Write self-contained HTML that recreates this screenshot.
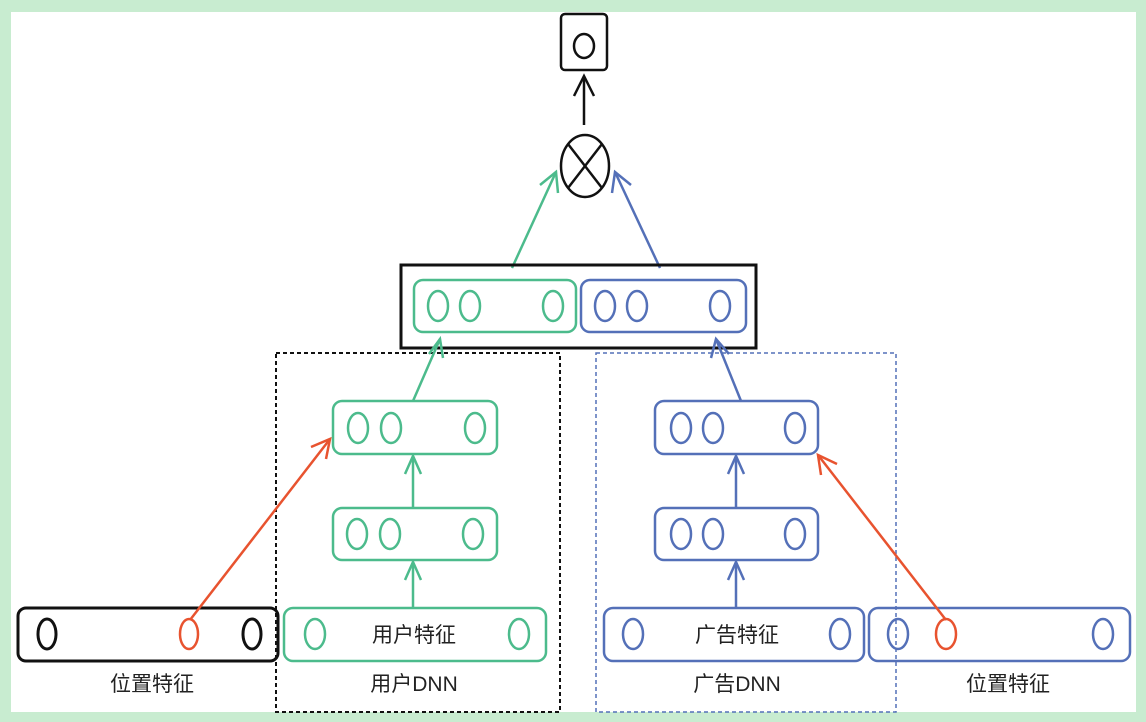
<!DOCTYPE html>
<html><head><meta charset="utf-8"><style>
html,body{margin:0;padding:0;background:#c8ecd0;}
svg{display:block}
text{font-family:"Liberation Sans","Noto Sans CJK SC",sans-serif;font-size:21px;fill:#222;text-anchor:middle}
</style></head><body>
<svg width="1146" height="722" viewBox="0 0 1146 722">
<defs>
<marker id="ak" viewBox="0 0 20 20" refX="10" refY="2" markerWidth="20" markerHeight="20" markerUnits="userSpaceOnUse" orient="auto-start-reverse"><path d="M2,18 L10,2 L18,18" fill="none" stroke="#111" stroke-width="2"/></marker>
</defs>
<rect x="11" y="12" width="1125" height="700" fill="#fff"/>
<g fill="none" stroke-width="2.5">
<!-- top -->
<rect x="561" y="14" width="46" height="56" rx="4" stroke="#111"/>
<ellipse cx="584" cy="46" rx="10" ry="12" stroke="#111"/>
<line x1="584" y1="125" x2="584" y2="76" stroke="#111"/>
<path d="M574,96 L584,76 L594,96" stroke="#111"/>
<ellipse cx="585" cy="166" rx="24" ry="31" stroke="#111"/>
<line x1="568" y1="144" x2="602" y2="188" stroke="#111"/>
<line x1="602" y1="144" x2="568" y2="188" stroke="#111"/>
<!-- arrows to cross -->
<line x1="512" y1="268" x2="556" y2="172" stroke="#4cbb8c"/>
<path d="M540,185 L556,172 L558,193" stroke="#4cbb8c"/>
<line x1="660" y1="268" x2="615" y2="172" stroke="#5470b8"/>
<path d="M612,193 L615,172 L631,185" stroke="#5470b8"/>
<!-- concat box -->
<rect x="401" y="265" width="355" height="83" stroke="#111" stroke-width="3"/>
<rect x="414" y="280" width="162" height="52" rx="9" stroke="#4cbb8c"/>
<ellipse cx="438" cy="306" rx="10" ry="15" stroke="#4cbb8c"/>
<ellipse cx="470" cy="306" rx="10" ry="15" stroke="#4cbb8c"/>
<ellipse cx="553" cy="306" rx="10" ry="15" stroke="#4cbb8c"/>
<rect x="581" y="280" width="165" height="52" rx="9" stroke="#5470b8"/>
<ellipse cx="605" cy="306" rx="10" ry="15" stroke="#5470b8"/>
<ellipse cx="637" cy="306" rx="10" ry="15" stroke="#5470b8"/>
<ellipse cx="720" cy="306" rx="10" ry="15" stroke="#5470b8"/>
<!-- dashed -->
<rect x="276" y="353" width="284" height="359" stroke="#111" stroke-width="2" stroke-dasharray="4,3"/>
<rect x="596" y="353" width="300" height="359" stroke="#5470b8" stroke-width="1.5" stroke-dasharray="4,3"/>
<!-- green dnn -->
<rect x="333" y="401" width="164" height="53" rx="9" stroke="#4cbb8c"/>
<ellipse cx="358" cy="428" rx="10" ry="15" stroke="#4cbb8c"/>
<ellipse cx="391" cy="428" rx="10" ry="15" stroke="#4cbb8c"/>
<ellipse cx="475" cy="428" rx="10" ry="15" stroke="#4cbb8c"/>
<rect x="333" y="508" width="164" height="52" rx="9" stroke="#4cbb8c"/>
<ellipse cx="357" cy="534" rx="10" ry="15" stroke="#4cbb8c"/>
<ellipse cx="390" cy="534" rx="10" ry="15" stroke="#4cbb8c"/>
<ellipse cx="473" cy="534" rx="10" ry="15" stroke="#4cbb8c"/>
<line x1="413" y1="401" x2="440" y2="339" stroke="#4cbb8c"/>
<path d="M429,354 L440,339 L443,358" stroke="#4cbb8c"/>
<line x1="413" y1="508" x2="413" y2="456" stroke="#4cbb8c"/>
<path d="M405,474 L413,456 L421,474" stroke="#4cbb8c"/>
<line x1="413" y1="608" x2="413" y2="562" stroke="#4cbb8c"/>
<path d="M405,580 L413,562 L421,580" stroke="#4cbb8c"/>
<!-- blue dnn -->
<rect x="655" y="401" width="163" height="53" rx="9" stroke="#5470b8"/>
<ellipse cx="681" cy="428" rx="10" ry="15" stroke="#5470b8"/>
<ellipse cx="713" cy="428" rx="10" ry="15" stroke="#5470b8"/>
<ellipse cx="795" cy="428" rx="10" ry="15" stroke="#5470b8"/>
<rect x="655" y="508" width="163" height="52" rx="9" stroke="#5470b8"/>
<ellipse cx="681" cy="534" rx="10" ry="15" stroke="#5470b8"/>
<ellipse cx="713" cy="534" rx="10" ry="15" stroke="#5470b8"/>
<ellipse cx="795" cy="534" rx="10" ry="15" stroke="#5470b8"/>
<line x1="741" y1="401" x2="716" y2="339" stroke="#5470b8"/>
<path d="M711,358 L716,339 L729,354" stroke="#5470b8"/>
<line x1="736" y1="508" x2="736" y2="456" stroke="#5470b8"/>
<path d="M728,474 L736,456 L744,474" stroke="#5470b8"/>
<line x1="736" y1="608" x2="736" y2="562" stroke="#5470b8"/>
<path d="M728,580 L736,562 L744,580" stroke="#5470b8"/>
<!-- bottom row -->
<rect x="18" y="608" width="260" height="53" rx="8" stroke="#111" stroke-width="3"/>
<ellipse cx="47" cy="634" rx="9" ry="15" stroke="#111" stroke-width="3"/>
<ellipse cx="189" cy="634" rx="9" ry="15" stroke="#e8532f"/>
<ellipse cx="252" cy="634" rx="9" ry="15" stroke="#111" stroke-width="3"/>
<rect x="284" y="608" width="262" height="53" rx="9" stroke="#4cbb8c"/>
<ellipse cx="315" cy="634" rx="10" ry="15" stroke="#4cbb8c"/>
<ellipse cx="519" cy="634" rx="10" ry="15" stroke="#4cbb8c"/>
<rect x="604" y="608" width="260" height="53" rx="9" stroke="#5470b8"/>
<ellipse cx="633" cy="634" rx="10" ry="15" stroke="#5470b8"/>
<ellipse cx="840" cy="634" rx="10" ry="15" stroke="#5470b8"/>
<rect x="869" y="608" width="261" height="53" rx="9" stroke="#5470b8"/>
<ellipse cx="898" cy="634" rx="10" ry="15" stroke="#5470b8"/>
<ellipse cx="946" cy="634" rx="10" ry="15" stroke="#e8532f"/>
<ellipse cx="1103" cy="634" rx="10" ry="15" stroke="#5470b8"/>
<!-- red arrows -->
<line x1="190" y1="620" x2="330" y2="439" stroke="#e8532f"/>
<path d="M311,447 L330,439 L326,459" stroke="#e8532f"/>
<line x1="946" y1="620" x2="818" y2="455" stroke="#e8532f"/>
<path d="M821,475 L818,455 L837,464" stroke="#e8532f"/>
</g>
<text x="414" y="642">用户特征</text>
<text x="737" y="642">广告特征</text>
<text x="152" y="691">位置特征</text>
<text x="414" y="691">用户DNN</text>
<text x="737" y="691">广告DNN</text>
<text x="1008" y="691">位置特征</text>
</svg>
</body></html>
